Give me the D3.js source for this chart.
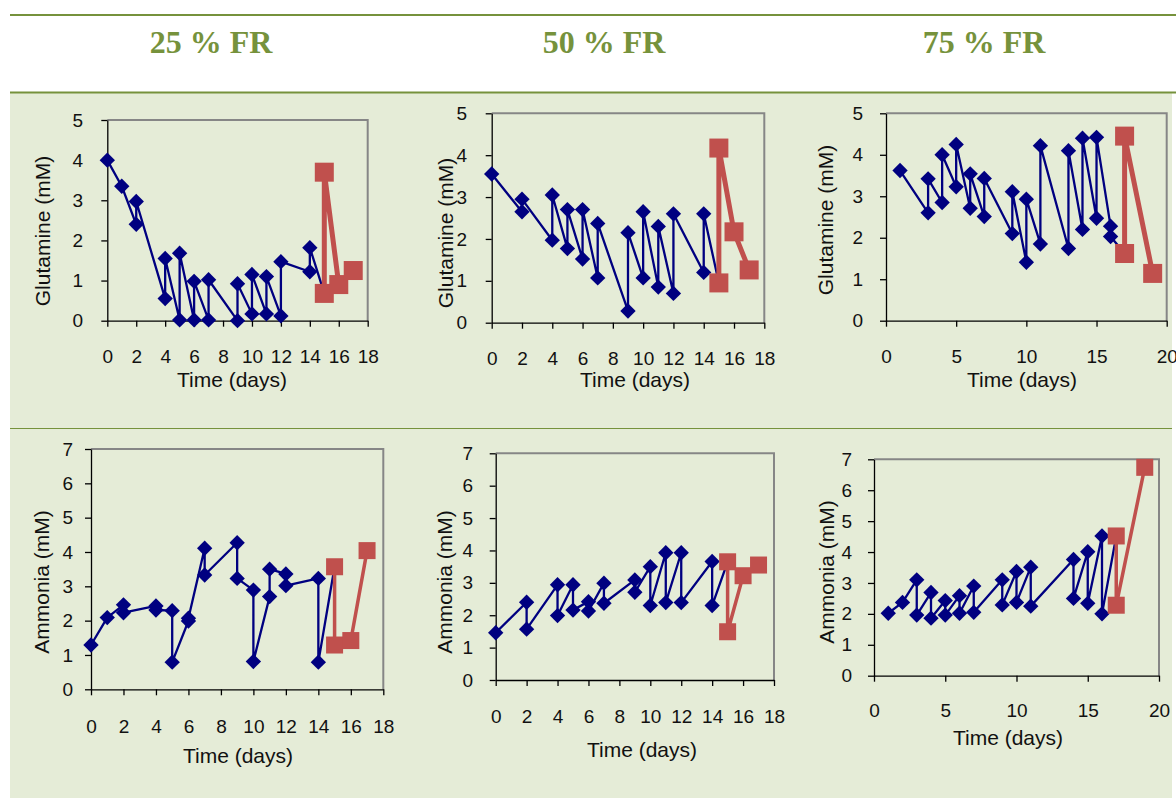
<!DOCTYPE html>
<html>
<head>
<meta charset="utf-8">
<script src="https://cdn.jsdelivr.net/npm/d3@7.9.0/dist/d3.min.js"></script>
<style>
  html, body { margin: 0; padding: 0; background: #fff; overflow: hidden; }
  svg { display: block; }
</style>
</head>
<body>
<svg id="chart" width="1176" height="798"></svg>
<script>
// column headers
const headers = ['25 % FR', '50 % FR', '75 % FR'];

// [day, mM] – blue = fed-batch phase, red = after switch
const glu25Blue = [[0, 4.0], [1, 3.35], [2, 2.4], [2, 2.97], [4, 0.55], [4, 1.55], [5, 0.02], [5, 1.68],
  [6, 0.02], [6, 0.98], [7, 0.02], [7, 1.02], [9, 0.0], [9, 0.92], [10, 0.17], [10, 1.15],
  [11, 0.17], [11, 1.1], [12, 0.12], [12, 1.47], [14, 1.22], [14, 1.82], [15, 0.68]];
const glu25Red = [[15, 0.68], [15, 3.7], [16, 0.9], [17, 1.25]];

const glu50Blue = [[0, 3.55], [2, 2.65], [2, 2.95], [4, 1.97], [4, 3.05], [5, 1.77], [5, 2.7],
  [6, 1.52], [6, 2.7], [7, 1.07], [7, 2.37], [9, 0.28], [9, 2.15], [10, 1.07], [10, 2.65],
  [11, 0.85], [11, 2.3], [12, 0.7], [12, 2.6], [14, 1.2], [14, 2.6], [15, 0.95]];
const glu50Red = [[15, 0.95], [15, 4.17], [16, 2.17], [17, 1.26]];

const glu75Blue = [[1, 3.62], [3, 2.6], [3, 3.42], [4, 2.85], [4, 4.0], [5, 3.23], [5, 4.25],
  [6, 2.71], [6, 3.54], [7, 2.51], [7, 3.43], [9, 2.1], [9, 3.11], [10, 1.41], [10, 2.93],
  [11, 1.85], [11, 4.22], [13, 1.74], [13, 4.1], [14, 2.2], [14, 4.4], [15, 2.47], [15, 4.42],
  [16, 2.28], [16, 2.03], [17, 1.62]];
const glu75Red = [[17, 1.62], [17, 4.45], [19, 1.14]];

const amm25Blue = [[0, 1.29], [1, 2.09], [2, 2.46], [2, 2.23], [4, 2.43], [4, 2.31], [5, 2.29], [5, 0.79],
  [6, 1.99], [6, 2.07], [7, 4.11], [7, 3.33], [9, 4.27], [9, 3.23], [10, 2.89], [10, 0.81],
  [11, 2.7], [11, 3.5], [12, 3.36], [12, 3.02], [14, 3.23], [14, 0.79], [15, 3.57]];
const amm25Red = [[15, 3.57], [15, 1.29], [16, 1.42], [17, 4.04]];

const amm50Blue = [[0, 1.46], [2, 2.4], [2, 1.57], [4, 2.94], [4, 1.99], [5, 2.94], [5, 2.16],
  [6, 2.42], [6, 2.13], [7, 2.99], [7, 2.37], [9, 3.09], [9, 2.71], [10, 3.5], [10, 2.3],
  [11, 3.93], [11, 2.39], [12, 3.93], [12, 2.39], [14, 3.66], [14, 2.3], [15, 3.65]];
const amm50Red = [[15, 3.65], [15, 1.49], [16, 3.22], [17, 3.55]];

const amm75Blue = [[1, 2.02], [2, 2.37], [3, 3.1], [3, 1.96], [4, 2.69], [4, 1.86], [5, 2.43], [5, 1.96],
  [6, 2.59], [6, 2.02], [7, 2.9], [7, 2.05], [9, 3.1], [9, 2.29], [10, 3.37], [10, 2.37],
  [11, 3.51], [11, 2.25], [14, 3.76], [14, 2.5], [15, 4.01], [15, 2.34], [16, 4.52], [16, 2.0], [17, 4.52]];
const amm75Red = [[17, 4.52], [17, 2.28], [19, 6.74]];

const xTicks18 = [0, 2, 4, 6, 8, 10, 12, 14, 16, 18];
const xTicks20 = [0, 5, 10, 15, 20];
const yTicks5 = [0, 1, 2, 3, 4, 5];
const yTicks7 = [0, 1, 2, 3, 4, 5, 6, 7];

const GREEN = '#76923c';
const BG = '#e5ecd7';
const NAVY = '#000080';
const RED = '#c0504d';
const FONT = '"Liberation Sans", Arial, sans-serif';

const panels = [
  { blue: glu25Blue, red: glu25Red, xTicks: xTicks18, yTicks: yTicks5, title: 'Glutamine (mM)',
    box: [107.3, 367.7, 120, 320.7], yLabR: 83, yTitle: [43, 231], xLabBase: 363, xTitle: [232, 387], sq: 19, redW: 5 },
  { blue: glu50Blue, red: glu50Red, xTicks: xTicks18, yTicks: yTicks5, title: 'Glutamine (mM)',
    box: [491.7, 764.3, 113.3, 322.7], yLabR: 467, yTitle: [446, 233], xLabBase: 365, xTitle: [635, 387], sq: 19, redW: 5 },
  { blue: glu75Blue, red: glu75Red, xTicks: xTicks20, yTicks: yTicks5, title: 'Glutamine (mM)',
    box: [886, 1166.7, 113.3, 320.7], yLabR: 863, yTitle: [826, 220], xLabBase: 363, xTitle: [1022, 387], sq: 19, redW: 5 },
  { blue: amm25Blue, red: amm25Red, xTicks: xTicks18, yTicks: yTicks7, title: 'Ammonia (mM)',
    box: [91, 383.3, 449, 689.3], yLabR: 73, yTitle: [42, 582], xLabBase: 733, xTitle: [238, 763], sq: 17, redW: 3.5 },
  { blue: amm50Blue, red: amm50Red, xTicks: xTicks18, yTicks: yTicks7, title: 'Ammonia (mM)',
    box: [495.7, 774, 453.3, 680], yLabR: 473, yTitle: [445, 582], xLabBase: 723, xTitle: [642, 757], sq: 17, redW: 3.5 },
  { blue: amm75Blue, red: amm75Red, xTicks: xTicks20, yTicks: yTicks7, title: 'Ammonia (mM)',
    box: [874, 1159, 459.3, 675.7], yLabR: 852, yTitle: [827, 572], xLabBase: 717, xTitle: [1008, 745], sq: 17, redW: 3.5 },
];

const svg = d3.select('#chart');

// table background + rules
svg.append('rect').attr('x', 10).attr('y', 93).attr('width', 1162).attr('height', 705).attr('fill', BG);
svg.append('line').attr('x1', 10).attr('x2', 1176).attr('y1', 15).attr('y2', 15).attr('stroke', GREEN).attr('stroke-width', 2);
svg.append('line').attr('x1', 10).attr('x2', 1176).attr('y1', 92.5).attr('y2', 92.5).attr('stroke', GREEN).attr('stroke-width', 2);
svg.append('line').attr('x1', 10).attr('x2', 1172).attr('y1', 428.5).attr('y2', 428.5).attr('stroke', GREEN).attr('stroke-width', 1);

const headerX = [211, 604, 984];
svg.selectAll('text.hdr').data(headers).join('text')
  .attr('class', 'hdr')
  .attr('x', (d, i) => headerX[i]).attr('y', 53)
  .attr('text-anchor', 'middle')
  .attr('fill', GREEN)
  .style('font', 'bold 32px "Liberation Serif", "Times New Roman", serif')
  .text(d => d);

const TICK_FS = 19;
const TITLE_FS = 21;

panels.forEach(p => {
  const [x0, x1, y0, y1] = p.box;
  const x = d3.scaleLinear().domain([0, d3.max(p.xTicks)]).range([x0, x1]);
  const y = d3.scaleLinear().domain([0, d3.max(p.yTicks)]).range([y1, y0]);
  const g = svg.append('g');

  // grey frame top/right
  g.append('path')
    .attr('d', `M${x0},${y0}H${x1}V${y1}`)
    .attr('fill', 'none').attr('stroke', '#868686').attr('stroke-width', 2);

  const yAxis = g.append('g').attr('transform', `translate(${x0},0)`)
    .call(d3.axisLeft(y).tickValues(p.yTicks).tickSize(6).tickSizeOuter(0)
      .tickPadding(x0 - p.yLabR - 6).tickFormat(d3.format('d')));
  const xAxis = g.append('g').attr('transform', `translate(0,${y1})`)
    .call(d3.axisBottom(x).tickValues(p.xTicks).tickSize(6).tickSizeOuter(0)
      .tickPadding(p.xLabBase - y1 - 6 - 0.71 * TICK_FS).tickFormat(d3.format('d')));
  [yAxis, xAxis].forEach(a => {
    a.selectAll('path, line').attr('stroke', '#000').attr('stroke-width', 1.3);
    a.selectAll('text').attr('fill', '#111').style('font-family', FONT).style('font-size', TICK_FS + 'px');
  });

  g.append('text')
    .attr('transform', `translate(${p.yTitle[0]},${p.yTitle[1]}) rotate(-90)`)
    .attr('text-anchor', 'middle').attr('dy', '0.35em')
    .attr('fill', '#111').style('font-family', FONT).style('font-size', TITLE_FS + 'px')
    .text(p.title);
  g.append('text')
    .attr('x', p.xTitle[0]).attr('y', p.xTitle[1])
    .attr('text-anchor', 'middle')
    .attr('fill', '#111').style('font-family', FONT).style('font-size', TITLE_FS + 'px')
    .text('Time (days)');

  const line = d3.line().x(d => x(d[0])).y(d => y(d[1]));

  g.append('path').datum(p.blue).attr('d', line)
    .attr('fill', 'none').attr('stroke', NAVY).attr('stroke-width', 2.3).attr('stroke-linejoin', 'round');
  g.selectAll('path.dia').data(p.blue.slice(0, -1)).join('path')
    .attr('class', 'dia')
    .attr('transform', d => `translate(${x(d[0])},${y(d[1])})`)
    .attr('d', d3.symbol(d3.symbolDiamond2, 150))
    .attr('fill', NAVY);

  g.append('path').datum(p.red).attr('d', line)
    .attr('fill', 'none').attr('stroke', RED).attr('stroke-width', p.redW).attr('stroke-linejoin', 'round');
  g.selectAll('rect.sq').data(p.red).join('rect')
    .attr('class', 'sq')
    .attr('x', d => x(d[0]) - p.sq / 2).attr('y', d => y(d[1]) - p.sq / 2)
    .attr('width', p.sq).attr('height', p.sq)
    .attr('fill', RED);
});
</script>
</body>
</html>
